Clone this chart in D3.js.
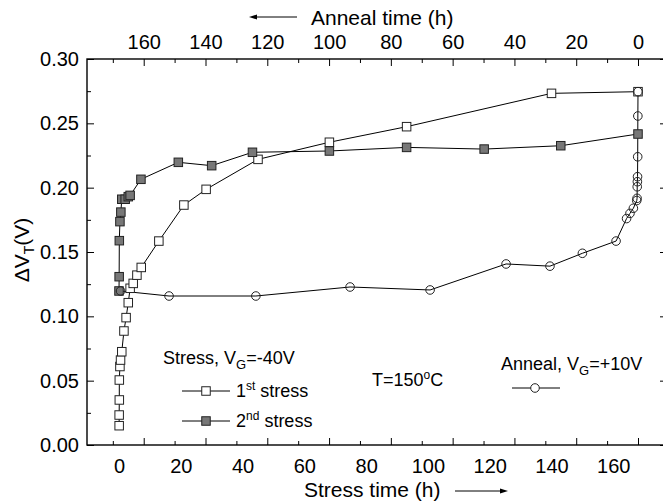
<!DOCTYPE html>
<html><head><meta charset="utf-8">
<script src="https://cdn.jsdelivr.net/npm/d3@7"></script>
<style>body{margin:0;background:#fff}svg{display:block}text{font-family:"Liberation Sans",Arial,sans-serif;fill:#000}</style>
</head><body><svg id="c" width="663" height="503"></svg>
<script>
// ---- data ----
const stressTime1 = [0.05,0.05,0.1,0.1,0.3,0.5,0.9,1.6,2.3,3.0,3.6,4.6,5.8,7.2,12.9,21,28.2,45,68.1,93.1,140,168];
const dvt1 = [0.015,0.0233,0.035,0.0505,0.061,0.066,0.0725,0.0886,0.099,0.1106,0.1218,0.1256,0.132,0.138,0.1585,0.1865,0.1987,0.222,0.2353,0.2474,0.2733,0.2746];
const stressTime2 = [0,0.05,0.1,0.3,0.6,0.9,2,3,3.6,7.1,19.2,30,43.2,68.1,93.1,118.2,143,168];
const dvt2 = [0.1197,0.1308,0.1588,0.1736,0.181,0.191,0.191,0.193,0.194,0.2065,0.2197,0.2171,0.2275,0.2285,0.2313,0.230,0.2326,0.2417];
const annealTime = [0,0.05,0.1,0.15,0.2,0.25,0.3,0.4,1.5,2.6,3.7,7.1,18,28.5,42.7,67.3,93.2,123.7,151.8,167.5];
const dvtAnneal = [0.2746,0.2557,0.224,0.2085,0.2046,0.2007,0.1917,0.190,0.184,0.180,0.176,0.1585,0.149,0.139,0.1407,0.1205,0.1228,0.1158,0.1158,0.1197];
const yTickValues = [0,0.05,0.10,0.15,0.20,0.25,0.30];
const stressTickLabels = [0,20,40,60,80,100,120,140,160];
const annealTickLabels = [0,20,40,60,80,100,120,140,160];

// ---- layout ----
const svg = d3.select("#c");
const L = 87, R = 666, T = 59, B = 445;
const xS = d3.scaleLinear().domain([0,168]).range([119,638]);
const xA = d3.scaleLinear().domain([0,168]).range([638,119]);
const y = d3.scaleLinear().domain([0,0.30]).range([B,T]);
const fs = 20;
const FF = "Liberation Sans";

// frame
svg.append("rect").attr("x",L).attr("y",T).attr("width",R-L).attr("height",B-T)
  .attr("fill","none").attr("stroke","#000").attr("stroke-width",1.4);

// left axis
const ly = svg.append("g").attr("transform",`translate(${L},0)`)
  .call(d3.axisLeft(y).tickValues(yTickValues).tickFormat(d3.format(".2f")).tickSize(-7).tickPadding(8));
ly.select(".domain").remove();
ly.selectAll("text").attr("font-size",fs).attr("font-family",FF);
svg.append("g").attr("transform",`translate(${L},0)`)
  .call(d3.axisLeft(y).tickValues(d3.range(0.025,0.3,0.05)).tickFormat("").tickSize(-4))
  .select(".domain").remove();
// right axis ticks
svg.append("g").attr("transform",`translate(${R},0)`)
  .call(d3.axisRight(y).tickValues(yTickValues).tickFormat("").tickSize(-6))
  .select(".domain").remove();

// top axis (anneal time)
const ta = svg.append("g").attr("transform",`translate(0,${T})`)
  .call(d3.axisTop(xA).tickValues(annealTickLabels).tickSize(-7).tickPadding(10));
ta.select(".domain").remove();
ta.selectAll("text").attr("font-size",fs).attr("font-family",FF);
const minorA = [-10,10,30,50,70,90,110,130,150,170].filter(d=>xA(d)>L && xA(d)<R);
svg.append("g").attr("transform",`translate(0,${T})`)
  .call(d3.axisTop(xA).tickValues(minorA).tickFormat("").tickSize(-4))
  .select(".domain").remove();

// bottom axis: tick marks mirror the anneal axis, labels give stress time
svg.append("g").attr("transform",`translate(0,${B})`)
  .call(d3.axisBottom(xA).tickValues(annealTickLabels).tickFormat("").tickSize(-7))
  .select(".domain").remove();
svg.append("g").attr("transform",`translate(0,${B})`)
  .call(d3.axisBottom(xA).tickValues(minorA).tickFormat("").tickSize(-4))
  .select(".domain").remove();
const bl = svg.append("g").attr("transform",`translate(0,${B})`)
  .call(d3.axisBottom(xS).tickValues(stressTickLabels).tickSize(0).tickPadding(14));
bl.select(".domain").remove();
bl.selectAll("text").attr("font-size",fs).attr("font-family",FF);

// axis titles
svg.append("text").attr("x",311).attr("y",25).attr("font-size",21).text("Anneal time (h)");
svg.append("line").attr("x1",252).attr("x2",297).attr("y1",17).attr("y2",17).attr("stroke","#000").attr("stroke-width",1);
svg.append("path").attr("d","M249,17 L257,14.5 L257,19.5 Z").attr("fill","#000");
svg.append("text").attr("x",304).attr("y",497).attr("font-size",21).text("Stress time (h)");
svg.append("line").attr("x1",455).attr("x2",503).attr("y1",491).attr("y2",491).attr("stroke","#000").attr("stroke-width",1);
svg.append("path").attr("d","M508,491 L500,488.5 L500,493.5 Z").attr("fill","#000");
const yt = svg.append("text").attr("transform","translate(29,250) rotate(-90)").attr("text-anchor","middle").attr("font-size",21);
yt.append("tspan").text("\u0394V");
yt.append("tspan").attr("font-size",14).attr("dy",5).text("T");
yt.append("tspan").attr("dy",-5).text("(V)");

// ---- series ----
const line = d3.line();
const sq = 8.5, rc = 4.3;
function drawSquares(xs, ys, fill){
  svg.append("path").attr("d",line(xs.map((t,i)=>[xS(t),y(ys[i])]))).attr("fill","none").attr("stroke","#000").attr("stroke-width",1);
  svg.append("g").selectAll("rect").data(xs).join("rect")
    .attr("x",(t)=>xS(t)-sq/2).attr("y",(t,i)=>y(ys[i])-sq/2).attr("width",sq).attr("height",sq)
    .attr("fill",fill).attr("stroke","#222").attr("stroke-width",1);
}
svg.append("path").attr("d",line(annealTime.map((t,i)=>[xA(t),y(dvtAnneal[i])]))).attr("fill","none").attr("stroke","#000").attr("stroke-width",1);
drawSquares(stressTime1, dvt1, "#fff");
drawSquares(stressTime2, dvt2, "#777");
svg.append("g").selectAll("circle").data(annealTime).join("circle")
  .attr("cx",t=>xA(t)).attr("cy",(t,i)=>y(dvtAnneal[i])).attr("r",rc)
  .attr("fill","none").attr("stroke","#222").attr("stroke-width",1);

// ---- legend ----
const lf = 18;
const t1 = svg.append("text").attr("x",163).attr("y",364).attr("font-size",lf);
t1.append("tspan").text("Stress,  V");
t1.append("tspan").attr("font-size",13).attr("dy",5).text("G");
t1.append("tspan").attr("dy",-5).text("=-40V");
function legendRow(yy, fill, label, sup){
  svg.append("line").attr("x1",182).attr("x2",230).attr("y1",yy).attr("y2",yy).attr("stroke","#000");
  svg.append("rect").attr("x",206-sq/2).attr("y",yy-sq/2).attr("width",sq).attr("height",sq).attr("fill",fill).attr("stroke","#222");
  const t = svg.append("text").attr("x",236).attr("y",yy+6).attr("font-size",lf);
  t.append("tspan").text(label);
  t.append("tspan").attr("font-size",12).attr("dy",-7).text(sup);
  t.append("tspan").attr("dy",7).text(" stress");
}
legendRow(391,"#fff","1","st");
legendRow(421,"#777","2","nd");
const tT = svg.append("text").attr("x",372).attr("y",386).attr("font-size",lf);
tT.append("tspan").text("T=150");
tT.append("tspan").attr("font-size",12).attr("dy",-7).text("o");
tT.append("tspan").attr("dy",7).text("C");
const tA = svg.append("text").attr("x",501).attr("y",370).attr("font-size",lf);
tA.append("tspan").text("Anneal, V");
tA.append("tspan").attr("font-size",13).attr("dy",5).text("G");
tA.append("tspan").attr("dy",-5).text("=+10V");
svg.append("line").attr("x1",512).attr("x2",560).attr("y1",388).attr("y2",388).attr("stroke","#000");
svg.append("circle").attr("cx",535).attr("cy",388).attr("r",rc).attr("fill","#fff").attr("stroke","#222");
</script></body></html>
